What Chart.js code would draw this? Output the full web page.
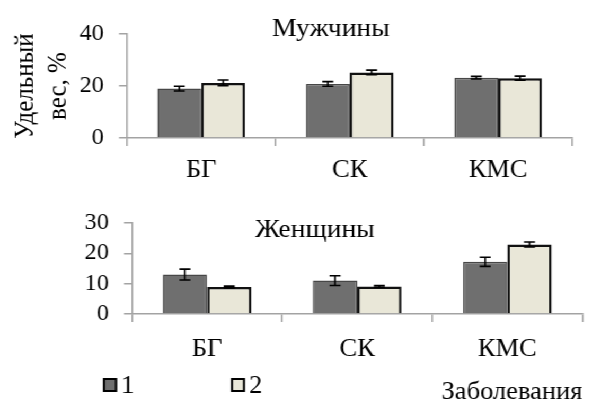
<!DOCTYPE html>
<html>
<head>
<meta charset="utf-8">
<script src="https://cdn.jsdelivr.net/npm/chart.js@4/dist/chart.umd.min.js"></script>
<style>
  html, body { margin: 0; padding: 0; background: #fff; overflow: hidden; }
  #wrap { position: absolute; left: 0; top: 0; transform-origin: 0 0; }
  canvas { display: block; }
</style>
</head>
<body>
<div id="wrap">
  <canvas id="men"></canvas>
  <canvas id="women"></canvas>
</div>
<script>
// Categories and series
const categories = ['БГ', 'СК', 'КМС'];
const seriesNames = ['1', '2'];

// Men: share, % and error
const menGroup1 = [19.0, 20.8, 23.2];
const menGroup2 = [21.2, 25.2, 23.0];
const menErr1 = [0.9, 0.9, 0.5];
const menErr2 = [1.1, 0.9, 0.8];

// Women: share, % and error
const womenGroup1 = [13.0, 11.0, 17.2];
const womenGroup2 = [8.9, 9.1, 22.9];
const womenErr1 = [1.8, 1.6, 1.5];
const womenErr2 = [0.3, 0.3, 0.8];

// Axis ticks
const menTicks = [0, 20, 40];
const womenTicks = [0, 10, 20, 30];

const panelTitles = ['Мужчины', 'Женщины'];
const yTitle = ['Удельный', 'вес, %'];
const xTitle = 'Заболевания';

// Page geometry: canvases are drawn slightly narrower and stretched horizontally
const K = 1.06;
const PAGE_W = 590;
const W = Math.round(PAGE_W / K);
const TOP_H = 195, BOT_H = 211;
const SERIF = '"Liberation Serif", "Times New Roman", serif';
const AXIS = '#a3a3a3';
const FILL1 = '#6f6f6f', EDGE1 = '#474747';
const FILL2 = '#e9e7d8', EDGE2 = '#111111';

document.getElementById('wrap').style.transform = 'scaleX(' + K + ')';

function setupCanvas(id, h) {
  const c = document.getElementById(id);
  c.width = W; c.height = h;
  c.style.width = W + 'px'; c.style.height = h + 'px';
  return c;
}

// Error bars drawn through the chart's own scales
const errorBars = {
  id: 'errorBars',
  afterDatasetsDraw(chart) {
    const ctx = chart.ctx;
    const y = chart.scales.y;
    const cap = 11 / K;
    ctx.save();
    ctx.strokeStyle = '#000';
    chart.data.datasets.forEach((ds, di) => {
      const meta = chart.getDatasetMeta(di);
      meta.data.forEach((bar, i) => {
        const v = ds.data[i], e = ds.errors[i];
        const yt = y.getPixelForValue(v + e);
        const yb = y.getPixelForValue(v - e);
        ctx.lineWidth = 1.6;
        ctx.beginPath();
        ctx.moveTo(bar.x, yt); ctx.lineTo(bar.x, yb);
        ctx.moveTo(bar.x - cap / 2, yt); ctx.lineTo(bar.x + cap / 2, yt);
        ctx.moveTo(bar.x - cap / 2, yb); ctx.lineTo(bar.x + cap / 2, yb);
        ctx.stroke();
      });
    });
    ctx.restore();
  }
};

// Panel caption inside the plot
const panelCaption = {
  id: 'panelCaption',
  afterDraw(chart, args, opts) {
    const ctx = chart.ctx;
    ctx.save();
    ctx.font = opts.size + 'px ' + SERIF;
    ctx.fillStyle = '#000';
    ctx.textAlign = 'center';
    ctx.textBaseline = 'middle';
    ctx.fillText(opts.text, opts.x / K, opts.y);
    ctx.restore();
  }
};

// Legend with square swatches, built from the datasets
const squareLegend = {
  id: 'squareLegend',
  afterDraw(chart, args, opts) {
    const ctx = chart.ctx;
    ctx.save();
    chart.data.datasets.forEach((ds, i) => {
      const x = opts.xs[i] / K;
      const s = opts.box;
      ctx.fillStyle = ds.backgroundColor;
      ctx.fillRect(x, opts.y, s / K, s);
      ctx.lineWidth = 2;
      ctx.strokeStyle = '#000';
      ctx.strokeRect(x + 1 / K, opts.y + 1, s / K - 2 / K, s - 2);
      ctx.fillStyle = '#000';
      ctx.font = opts.size + 'px ' + SERIF;
      ctx.textAlign = 'left';
      ctx.textBaseline = 'middle';
      ctx.fillText(ds.label, x + (s + 4) / K, opts.y + s / 2 + 1);
    });
    ctx.restore();
  }
};

function datasets(a, ea, b, eb) {
  return [
    { label: seriesNames[0], data: a, errors: ea, backgroundColor: FILL1, borderColor: EDGE1,
      borderWidth: 1.5, categoryPercentage: 0.59, barPercentage: 1 },
    { label: seriesNames[1], data: b, errors: eb, backgroundColor: FILL2, borderColor: EDGE2,
      borderWidth: 2.5, categoryPercentage: 0.59, barPercentage: 1 }
  ];
}

function buildOptions(cfg) {
  const yScale = {
    min: cfg.ticks[0], max: cfg.ticks[cfg.ticks.length - 1],
    afterBuildTicks(s) { s.ticks = cfg.ticks.map(v => ({ value: v })); },
    ticks: { color: '#000', font: { family: SERIF, size: 23 }, padding: 15 / K, autoSkip: false },
    grid: { drawOnChartArea: false, drawTicks: true, tickLength: 8 / K, color: AXIS, lineWidth: 1.5 },
    border: { color: AXIS, width: 1.5 },
    afterFit(s) { s.width = cfg.left / K; }
  };
  if (cfg.yTitle) {
    const fs = 25, lh = 33 / K;
    yScale.title = {
      display: true, text: cfg.yTitle, color: '#000',
      font: { family: SERIF, size: fs, lineHeight: lh / fs },
      padding: { top: 26 / K - lh / 2, bottom: 0 }
    };
  }
  const xScale = {
    ticks: { color: '#000', font: { family: SERIF, size: 25 }, padding: cfg.xPad, autoSkip: false },
    grid: { display: true, drawOnChartArea: false, drawTicks: true, tickLength: 8, color: AXIS, lineWidth: 1.5 },
    border: { color: AXIS, width: 1.5 },
    afterFit(s) { s.height = cfg.xHeight; }
  };
  if (cfg.xTitle) {
    xScale.title = {
      display: true, text: cfg.xTitle, color: '#000', align: 'end',
      font: { family: SERIF, size: 25, lineHeight: 1.1 }, padding: { top: 0, bottom: 0 }
    };
  }
  return {
    responsive: false, animation: false, devicePixelRatio: 1,
    layout: { padding: { left: 0, right: (PAGE_W - cfg.right) / K, top: cfg.top, bottom: 0 } },
    plugins: {
      legend: { display: false }, tooltip: { enabled: false },
      panelCaption: cfg.caption,
      squareLegend: cfg.legend || false
    },
    scales: { x: xScale, y: yScale }
  };
}

new Chart(setupCanvas('men', TOP_H), {
  type: 'bar',
  data: { labels: categories, datasets: datasets(menGroup1, menErr1, menGroup2, menErr2) },
  options: buildOptions({
    ticks: menTicks, left: 127, right: 572, top: 34, xHeight: TOP_H - 138, xPad: 9,
    yTitle: yTitle,
    caption: { text: panelTitles[0], x: 331, y: 29, size: 26 }
  }),
  plugins: [errorBars, panelCaption]
});

new Chart(setupCanvas('women', BOT_H), {
  type: 'bar',
  data: { labels: categories, datasets: datasets(womenGroup1, womenErr1, womenGroup2, womenErr2) },
  options: buildOptions({
    ticks: womenTicks, left: 132, right: 582, top: 19, xHeight: BOT_H - 119, xPad: 12,
    xTitle: xTitle,
    caption: { text: panelTitles[1], x: 315, y: 35, size: 26 },
    legend: { xs: [103, 231], y: 183, box: 14, size: 25 }
  }),
  plugins: [errorBars, panelCaption, squareLegend]
});
</script>
</body>
</html>
